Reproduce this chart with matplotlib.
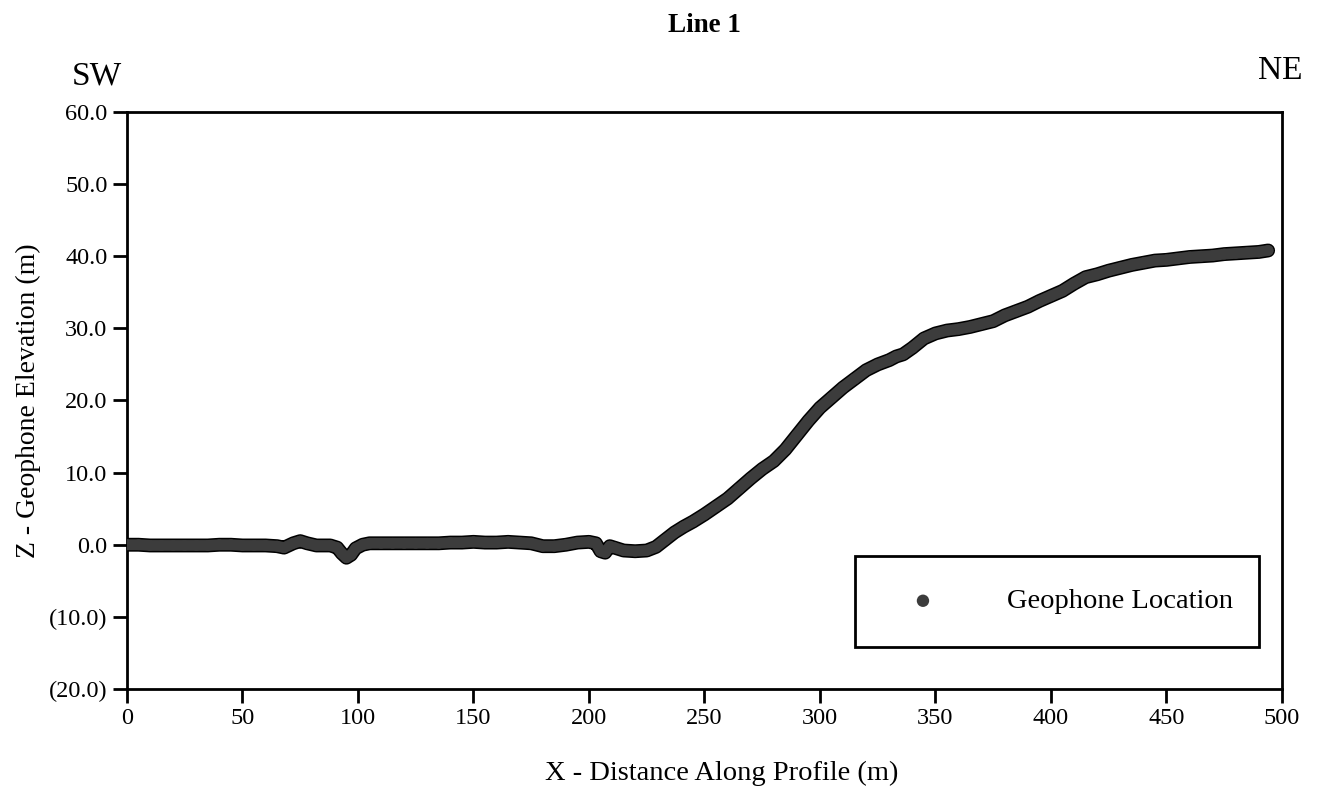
import numpy as np
import matplotlib.pyplot as plt

plt.rcParams['font.family'] = ['Liberation Serif', 'DejaVu Serif']

# distance along profile (m) and geophone elevation (m)
dist = [0, 5, 10, 15, 20, 25, 30, 35, 40, 45, 50, 55, 60, 65, 68, 72, 75, 78,
        82, 88, 91, 93, 95, 97, 99, 102, 105, 110, 115, 120, 125, 130, 135,
        140, 145, 150, 155, 160, 165, 170, 175, 180, 185, 190, 195, 200, 203,
        205, 207, 209, 211, 215, 220, 225, 229, 233, 237, 241, 245, 250, 255,
        260, 265, 270, 275, 280, 285, 290, 295, 300, 305, 310, 315, 320, 325,
        330, 333, 336, 340, 345, 350, 355, 360, 365, 370, 375, 380, 385, 390,
        395, 400, 405, 410, 415, 420, 425, 430, 435, 440, 445, 450, 455, 460,
        465, 470, 475, 480, 485, 490, 494]
elev = [0.0, 0.0, -0.1, -0.1, -0.1, -0.1, -0.1, -0.1, 0.0, 0.0, -0.1, -0.1,
        -0.1, -0.2, -0.4, 0.2, 0.5, 0.2, -0.1, -0.1, -0.4, -1.2, -1.8, -1.4,
        -0.5, 0.0, 0.2, 0.2, 0.2, 0.2, 0.2, 0.2, 0.2, 0.3, 0.3, 0.4, 0.3, 0.3,
        0.4, 0.3, 0.2, -0.2, -0.2, 0.0, 0.3, 0.4, 0.2, -0.9, -1.1, -0.2, -0.4,
        -0.8, -0.9, -0.8, -0.3, 0.7, 1.7, 2.5, 3.2, 4.2, 5.3, 6.4, 7.8, 9.2,
        10.5, 11.6, 13.2, 15.2, 17.2, 19.0, 20.4, 21.8, 23.0, 24.2, 25.0, 25.6,
        26.1, 26.4, 27.3, 28.6, 29.3, 29.7, 29.9, 30.2, 30.6, 31.0, 31.8, 32.4,
        33.0, 33.8, 34.5, 35.2, 36.2, 37.1, 37.5, 38.0, 38.4, 38.8, 39.1, 39.4,
        39.5, 39.7, 39.9, 40.0, 40.1, 40.3, 40.4, 40.5, 40.6, 40.8]

xticks = [0, 50, 100, 150, 200, 250, 300, 350, 400, 450, 500]
yticks = [-20, -10, 0, 10, 20, 30, 40, 50, 60]
ylabels = ['(20.0)', '(10.0)', '0.0', '10.0', '20.0', '30.0', '40.0', '50.0', '60.0']

fig = plt.figure(figsize=(13.2, 7.99), dpi=100)
ax = fig.add_axes([0.0962, 0.1377, 0.875, 0.7221])

# thick outlined trace so neighbouring geophones merge into one band
ax.plot(dist, elev, color='black', lw=10, solid_capstyle='round',
        solid_joinstyle='round', zorder=2)
ax.plot(dist, elev, color='#3c3c3c', lw=7.8, solid_capstyle='round',
        solid_joinstyle='round', zorder=3)
ax.scatter(dist, elev, s=60, color='#3c3c3c', edgecolors='none', zorder=4,
           label='Geophone Location')

ax.set_xlim(0, 500)
ax.set_ylim(-20, 60)
ax.set_xticks(xticks)
ax.set_yticks(yticks)
ax.set_yticklabels(ylabels)
ax.tick_params(direction='out', length=10, width=2, labelsize=17.5, pad=4)
for s in ax.spines.values():
    s.set_linewidth(2)

ax.set_xlabel('X - Distance Along Profile (m)', fontsize=20.5)
ax.xaxis.set_label_coords(0.515, -0.125)
ax.set_ylabel('Z - Geophone Elevation (m)', fontsize=20, labelpad=6)

fig.text(0.534, 0.968, 'Line 1', ha='center', va='center', fontsize=19.5,
         fontweight='bold')
fig.text(0.0545, 0.905, 'SW', ha='left', va='center', fontsize=24)
fig.text(0.9864, 0.911, 'NE', ha='right', va='center', fontsize=24)

leg = ax.legend(loc='lower left', bbox_to_anchor=(0.630, 0.0728, 0.350, 0.154),
                mode='expand', borderaxespad=0, fontsize=20.5, fancybox=False,
                framealpha=1, edgecolor='black', borderpad=1.15,
                handlelength=2.5, handletextpad=1.7, markerscale=1.15)
leg.get_frame().set_linewidth(2)

fig.savefig('out.png', dpi=100)
